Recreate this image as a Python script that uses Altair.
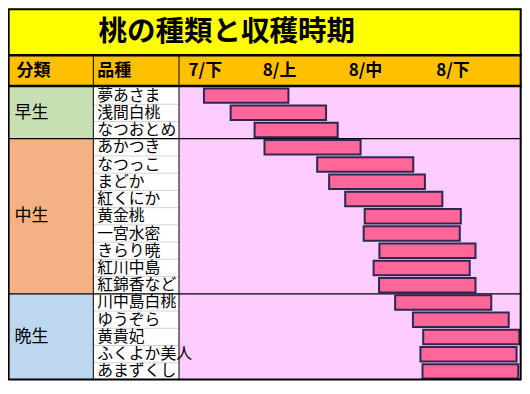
import altair as alt
import pandas as pd

# ---------------- data ----------------
title_text = "桃の種類と収穫時期"
header_cat = "分類"
header_var = "品種"

varieties = ["夢あさま", "浅間白桃", "なつおとめ", "あかつき", "なつっこ", "まどか",
             "紅くにか", "黄金桃", "一宮水密", "きらり暁", "紅川中島", "紅錦香など",
             "川中島白桃", "ゆうぞら", "黄貴妃", "ふくよか美人", "あまずくし"]
start = [7.3, 15.1, 22.1, 25.0, 40.4, 43.9, 48.6, 54.3, 54.0, 58.6, 56.9, 58.5,
         63.2, 68.4, 71.4, 70.6, 71.2]
end = [32.0, 43.0, 46.4, 53.1, 68.5, 71.9, 77.0, 82.4, 82.1, 86.7, 85.0, 86.7,
       91.3, 96.4, 99.5, 98.7, 99.2]

groups = ["早生", "中生", "晩生"]
group_sizes = [3, 9, 5]
group_colors = ["#C6E0B4", "#F4B183", "#BDD7EE"]

period_labels = ["7/下", "8/上", "8/中", "8/下"]
period_pos = [2.8, 24.5, 49.6, 75.2]

# ---------------- layout helpers ----------------
SX = 514 / 528
SY = 372 / 388
X0, Y0 = 176, 82
W = round(351 * SX)
H = round(306 * SY)
PAD_L = round(X0 * SX)
PAD_T = round(Y0 * SY)


def px(x):
    return (x - X0) * SX


def py(y):
    return (y - Y0) * SY


FONT = "Noto Sans CJK JP"
n = len(varieties)

rows = pd.DataFrame({"variety": varieties, "row": list(range(n)), "start": start, "end": end})
gs, ge, acc = [], [], 0
for s in group_sizes:
    gs.append(acc)
    acc += s
    ge.append(acc)
gdf = pd.DataFrame({"group": groups, "gstart": gs, "gend": ge})
pdf = pd.DataFrame({"label": period_labels, "pos": period_pos})
one = pd.DataFrame({"d": [0]})

xs = alt.Scale(domain=[0, 100], nice=False, zero=False)
ys = alt.Scale(domain=[0, n], reverse=True, nice=False, zero=False)


def box(x1, x2, y1, y2, color):
    return alt.Chart(one).mark_rect(color=color).encode(
        x=alt.value(px(x1)), x2=alt.value(px(x2)), y=alt.value(py(y1)), y2=alt.value(py(y2)))


def hline(x1, x2, y, w=1, color="black"):
    return alt.Chart(one).mark_rule(color=color, strokeWidth=w).encode(
        x=alt.value(px(x1)), x2=alt.value(px(x2)), y=alt.value(py(y)))


def vline(x, y1, y2, w=1, color="black"):
    return alt.Chart(one).mark_rule(color=color, strokeWidth=w).encode(
        x=alt.value(px(x)), y=alt.value(py(y1)), y2=alt.value(py(y2)))


def label(txt, x, y, size, weight="normal", align="left"):
    return alt.Chart(one).mark_text(text=txt, font=FONT, fontSize=size, fontWeight=weight,
                                    align=align, baseline="middle", color="black").encode(
        x=alt.value(px(x)), y=alt.value(py(y)))


title_bg = box(0, 528, 0, 49, "#FFFF00")
header_bg = box(0, 528, 49, 81, "#FFC000")
var_bg = box(88, 176, 81, 388, "#FFFFFF")

cat_rects = alt.Chart(gdf).mark_rect().encode(
    x=alt.value(px(0)), x2=alt.value(px(88)),
    y=alt.Y("gstart:Q", scale=ys, axis=None), y2="gend:Q",
    color=alt.Color("group:N", scale=alt.Scale(domain=groups, range=group_colors), legend=None))

gray_seps = alt.Chart(rows[rows["row"] >= 1]).mark_rule(color="#D4D4D4", strokeWidth=1).encode(
    x=alt.value(px(88)), x2=alt.value(px(176)),
    y=alt.Y("row:Q", scale=ys, axis=None))

group_seps = alt.Chart(gdf[gdf["gstart"] > 0]).mark_rule(color="black", strokeWidth=1.2).encode(
    x=alt.value(px(0)), x2=alt.value(px(528)),
    y=alt.Y("gstart:Q", scale=ys, axis=None))

bars = alt.Chart(rows).transform_calculate(
    y1="datum.row + 0.08", y2="datum.row + 0.92"
).mark_rect(fill="#FF6699", stroke="#2E2850", strokeWidth=2).encode(
    x=alt.X("start:Q", scale=xs, axis=None), x2="end:Q",
    y=alt.Y("y1:Q", scale=ys, axis=None), y2="y2:Q")

var_text = alt.Chart(rows).transform_calculate(ym="datum.row + 0.5").mark_text(
    font=FONT, fontSize=15.8, align="left", baseline="middle", color="black").encode(
    x=alt.value(px(92)), y=alt.Y("ym:Q", scale=ys, axis=None), text="variety:N")

cat_text = alt.Chart(gdf).transform_calculate(gm="(datum.gstart + datum.gend) / 2").mark_text(
    font=FONT, fontSize=17, align="left", baseline="middle", color="black").encode(
    x=alt.value(px(7)), y=alt.Y("gm:Q", scale=ys, axis=None), text="group:N")

period_text = alt.Chart(pdf).mark_text(
    font=FONT, fontSize=17, fontWeight="bold", align="left", baseline="middle", color="black").encode(
    x=alt.X("pos:Q", scale=xs, axis=None), y=alt.value(py(65)), text="label:N")

border = alt.Chart(one).mark_rect(fill=None, fillOpacity=0, stroke="black", strokeWidth=2).encode(
    x=alt.value(px(1)), x2=alt.value(px(527)), y=alt.value(py(1)), y2=alt.value(py(387)))

chart = alt.layer(
    title_bg, header_bg, var_bg, cat_rects, gray_seps,
    vline(88, 49, 388), vline(176, 49, 388),
    group_seps,
    hline(0, 528, 49, 2.5), hline(0, 528, 81, 2.5),
    var_text, cat_text, period_text,
    label(header_cat, 9, 65, 17, "bold"), label(header_var, 92, 65, 17, "bold"),
    label(title_text, 225, 25, 28.5, "bold", "center"),
    bars, border,
).properties(
    width=W, height=H,
    padding={"left": PAD_L, "top": PAD_T, "right": 1, "bottom": 3},
    autosize=alt.AutoSizeParams(type="none"),
    background="white",
).configure_view(stroke=None, fill="#FFCCFF")

chart.save("out.html", embed_options={"renderer": "svg", "actions": False})
